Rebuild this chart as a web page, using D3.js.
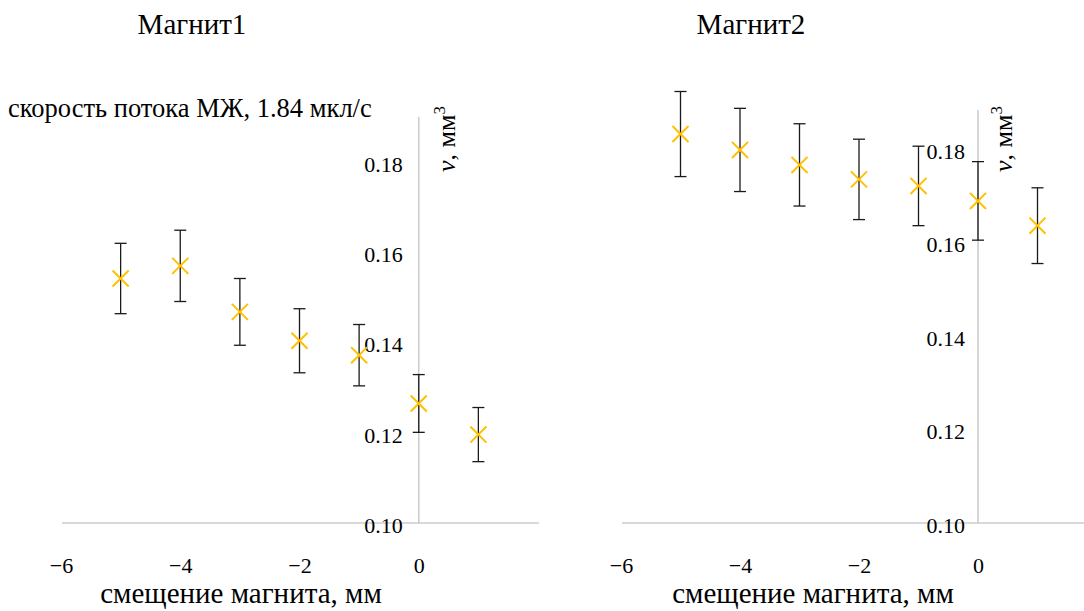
<!DOCTYPE html>
<html><head><meta charset="utf-8">
<script src="https://cdn.jsdelivr.net/npm/d3@7"></script>
<style>
html,body{margin:0;padding:0;background:#fff;}
svg{display:block;}
</style></head>
<body>
<svg id="chart" width="1084" height="611"></svg>
<script>
// ---- data ----
const shifts = [-5, -4, -3, -2, -1, 0, 1];
const magnet1Values = [0.1542, 0.1570, 0.1468, 0.1404, 0.1372, 0.1265, 0.1196];
const magnet1Errors = [0.0078, 0.0079, 0.0074, 0.0071, 0.0068, 0.0064, 0.0060];
const magnet2Values = [0.1832, 0.1798, 0.1766, 0.1735, 0.1721, 0.1689, 0.1636];
const magnet2Errors = [0.0091, 0.0089, 0.0088, 0.0086, 0.0085, 0.0084, 0.0081];
const xTickValues = [-6, -4, -2, 0];
const yTickValues = [0.10, 0.12, 0.14, 0.16, 0.18];
const panelTitles = ["Магнит1", "Магнит2"];
const xAxisTitle = "смещение магнита, мм";
const flowLabel = "скорость потока МЖ, 1.84 мкл/с";

const svg = d3.select("#chart");
const FAMILY = "'Liberation Serif', 'Times New Roman', serif";
const TICK = 22, TITLE = 29;
const markerColor = "#FFC000";
const axisColor = "#cccccc";

const panels = [
  {title: panelTitles[0], values: magnet1Values, errors: magnet1Errors,
   xr: [61, 538], yd: [0.10, 0.19], yr: [523, 117], yTop: 117, xLineEnd: 539,
   titleX: 192, xTitleX: 241, labelPad: 16, yLabelX: 455, yLabelTop: 106},
  {title: panelTitles[1], values: magnet2Values, errors: magnet2Errors,
   xr: [621, 1097], yd: [0.10, 0.18], yr: [523, 149], yTop: 110, xLineEnd: 1084,
   titleX: 751, xTitleX: 813, labelPad: 13, yLabelX: 1012, yLabelTop: 106}
];

panels.forEach(p => {
  const x = d3.scaleLinear().domain([-6, 2]).range(p.xr);
  const y = d3.scaleLinear().domain(p.yd).range(p.yr);
  const g = svg.append("g");

  // axis lines
  g.append("line").attr("x1", p.xr[0] + 1).attr("x2", p.xLineEnd)
    .attr("y1", y(0.10)).attr("y2", y(0.10))
    .attr("stroke", axisColor).attr("stroke-width", 1.6);
  g.append("line").attr("x1", x(0)).attr("x2", x(0))
    .attr("y1", p.yTop).attr("y2", y(0.10))
    .attr("stroke", axisColor).attr("stroke-width", 1.6);

  // x axis labels
  const xa = g.append("g").attr("transform", `translate(0,${y(0.10)})`)
    .call(d3.axisBottom(x).tickValues(xTickValues).tickSize(0).tickPadding(34).tickFormat(d3.format("d")));
  xa.select(".domain").remove();
  xa.selectAll("text").attr("font-size", TICK).style("font-family", FAMILY).attr("fill", "#000");

  // y axis labels
  const ya = g.append("g").attr("transform", `translate(${x(0)},0)`)
    .call(d3.axisLeft(y).tickValues(yTickValues).tickSize(0).tickPadding(p.labelPad).tickFormat(d3.format(".2f")));
  ya.select(".domain").remove();
  ya.selectAll("text").attr("font-size", TICK).style("font-family", FAMILY).attr("fill", "#000").attr("dy", "0.42em");

  // error bars
  const eb = g.append("g").attr("stroke", "#1a1a1a").attr("stroke-width", 1.3);
  shifts.forEach((s, i) => {
    const cx = x(s), hi = y(p.values[i] + p.errors[i]), lo = y(p.values[i] - p.errors[i]);
    eb.append("line").attr("x1", cx).attr("x2", cx).attr("y1", hi).attr("y2", lo);
    eb.append("line").attr("x1", cx - 6).attr("x2", cx + 6).attr("y1", hi).attr("y2", hi);
    eb.append("line").attr("x1", cx - 6).attr("x2", cx + 6).attr("y1", lo).attr("y2", lo);
  });

  // markers (x)
  const sym = d3.symbol().type(d3.symbolX).size(170);
  g.append("g").selectAll("path").data(shifts).join("path")
    .attr("d", sym)
    .attr("transform", (s, i) => `translate(${x(s)},${y(p.values[i])})`)
    .attr("fill", "none").attr("stroke", markerColor).attr("stroke-width", 2);

  // titles
  g.append("text").attr("x", p.titleX).attr("y", 34).attr("text-anchor", "middle")
    .attr("font-size", TITLE).style("font-family", FAMILY).text(p.title);
  g.append("text").attr("x", p.xTitleX).attr("y", 603).attr("text-anchor", "middle")
    .attr("font-size", TITLE).style("font-family", FAMILY).text(xAxisTitle);

  // y axis label rotated
  const yl = g.append("text")
    .attr("transform", `translate(${p.yLabelX},${p.yLabelTop}) rotate(-90)`)
    .attr("text-anchor", "end").attr("font-size", 26).style("font-family", FAMILY);
  yl.append("tspan").attr("font-style", "italic").text("ν");
  yl.append("tspan").text(", мм");
  yl.append("tspan").attr("font-size", 17).attr("dy", -10).text("3");
});

svg.append("text").attr("x", 8).attr("y", 117).attr("font-size", 26.5)
  .style("font-family", FAMILY).text(flowLabel);
</script>
</body></html>
